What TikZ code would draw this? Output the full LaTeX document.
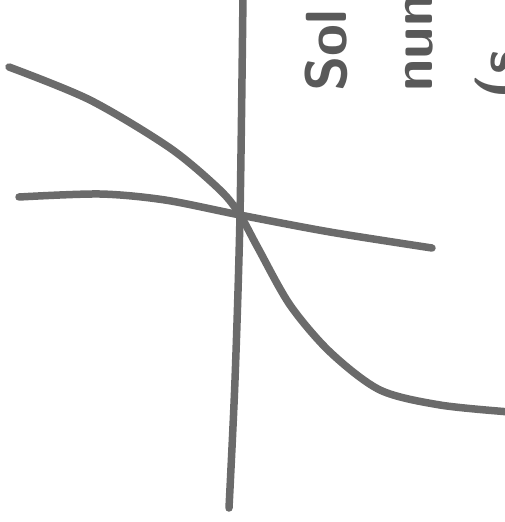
\documentclass[tikz,border=0pt]{standalone}
\usepackage{tikz}
\usetikzlibrary{positioning}

\begin{document}
\begin{tikzpicture}[x=1pt,y=-1pt,
  pen/.style={draw=black!58,line width=7.5pt,line cap=round,line join=round},
  scrawl/.style={rotate=90,anchor=base west,inner sep=0pt,text=black!65,
    font=\fontsize{58}{58}\selectfont\sffamily\bfseries}]
\useasboundingbox (0,0) rectangle (505,522);
\clip (0,0) rectangle (505,522);
% axes
\draw[pen] plot[smooth] coordinates {(243,-5) (240,215) (235,380) (229,508)};
\draw[pen] plot[smooth] coordinates {(19,197) (100,194) (165,200) (240,215) (330,232) (432,248)};
% curve
\draw[pen] plot[smooth] coordinates {(9,67) (90,100) (170,148) (220,190) (240,215) (258,248) (290,305) (330,352) (380,390) (440,405) (510,412)};
% note, cut off at the edge
\node[scrawl] (sol) at (346,92) {Sol};
\node[scrawl] (num) at (432,92) {num};
\node[scrawl] (paren) at (518,100) {(s};
\end{tikzpicture}
\end{document}
